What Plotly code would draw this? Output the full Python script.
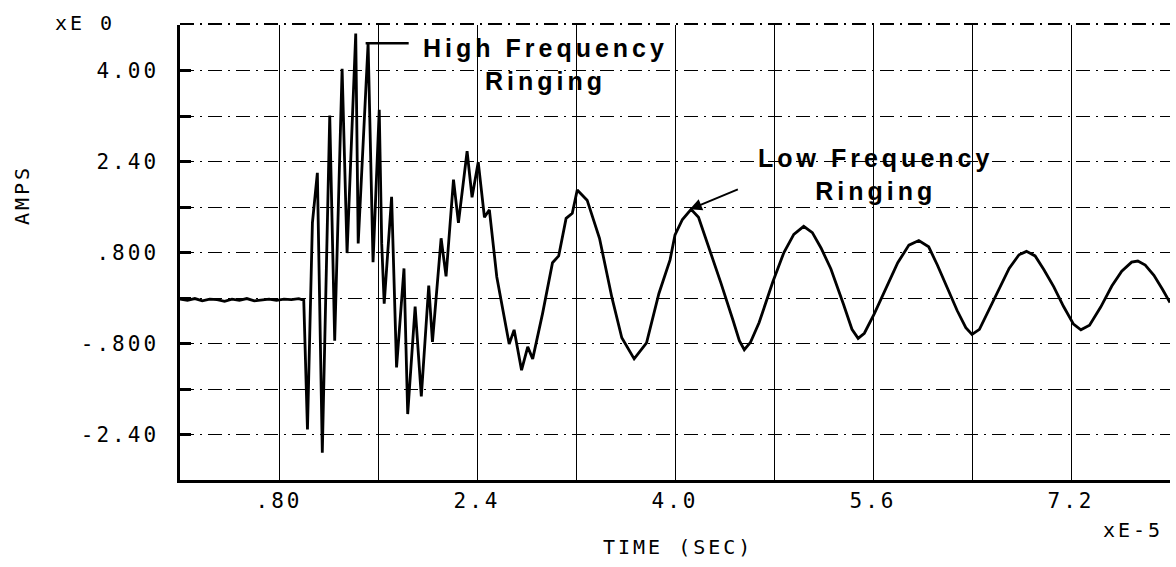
import plotly.graph_objects as go

# ---- data (time in units of 1e-5 s, current in amps) ----
time_flat = [0.00, 0.06, 0.12, 0.18, 0.24, 0.30, 0.36, 0.42, 0.48, 0.54, 0.60,
             0.66, 0.72, 0.78, 0.84, 0.90, 0.96, 1.00]
amps_flat = [-0.02, -0.04, -0.01, -0.05, -0.02, -0.03, -0.06, -0.02, -0.04, -0.01,
             -0.05, -0.03, -0.02, -0.04, -0.02, -0.03, -0.01, -0.04]

time_hf = [1.03, 1.07, 1.11, 1.15, 1.21, 1.25, 1.31, 1.35, 1.42, 1.44, 1.52, 1.56,
           1.61, 1.63, 1.65, 1.71, 1.75, 1.81, 1.84, 1.90, 1.95, 2.01, 2.04, 2.11,
           2.15, 2.21, 2.25, 2.32, 2.36, 2.41, 2.46, 2.50, 2.56, 2.66, 2.70, 2.76,
           2.81, 2.85, 2.93, 3.01, 3.06, 3.12, 3.17, 3.21, 3.29, 3.39, 3.49, 3.57,
           3.67, 3.77, 3.87, 3.96, 4.00, 4.06]
amps_hf = [-2.31, 1.32, 2.20, -2.72, 3.21, -0.75, 4.03, 0.79, 4.65, 0.96, 4.48, 0.63,
           3.31, 0.96, -0.10, 1.78, -1.22, 0.52, -2.04, -0.15, -1.73, 0.22, -0.77, 1.05,
           0.38, 2.08, 1.32, 2.58, 1.77, 2.39, 1.42, 1.55, 0.37, -0.81, -0.56, -1.27,
           -0.86, -1.07, -0.27, 0.62, 0.74, 1.40, 1.49, 1.90, 1.72, 1.05, 0.01, -0.70,
           -1.07, -0.79, 0.08, 0.67, 1.11, 1.38]

time_lf = [4.13, 4.19, 4.28, 4.37, 4.47, 4.52, 4.56, 4.61, 4.68, 4.79, 4.88, 4.96,
           5.04, 5.11, 5.18, 5.26, 5.36, 5.43, 5.48, 5.53, 5.61, 5.70, 5.80, 5.89,
           5.97, 6.05, 6.12, 6.20, 6.28, 6.35, 6.40, 6.46, 6.54, 6.62, 6.70, 6.78,
           6.84, 6.91, 6.98, 7.06, 7.14, 7.22, 7.28, 7.35, 7.44, 7.53, 7.61, 7.69,
           7.74, 7.80, 7.87, 7.94, 8.00]
amps_lf = [1.56, 1.42, 0.85, 0.27, -0.40, -0.75, -0.91, -0.78, -0.43, 0.28, 0.80, 1.12,
           1.26, 1.15, 0.88, 0.51, -0.10, -0.55, -0.71, -0.62, -0.28, 0.16, 0.62, 0.93,
           1.01, 0.90, 0.58, 0.18, -0.22, -0.52, -0.64, -0.55, -0.19, 0.19, 0.52, 0.76,
           0.82, 0.74, 0.50, 0.20, -0.15, -0.46, -0.56, -0.48, -0.16, 0.21, 0.47, 0.63,
           0.65, 0.58, 0.40, 0.15, -0.08]

time = time_flat + time_hf + time_lf
amps = amps_flat + amps_hf + amps_lf

x_grid = [0.0, 0.8, 1.6, 2.4, 3.2, 4.0, 4.8, 5.6, 6.4, 7.2, 8.0]
x_labels = ["", ".80", "", "2.4", "", "4.0", "", "5.6", "", "7.2", ""]
y_grid = [-3.2, -2.4, -1.6, -0.8, 0.0, 0.8, 1.6, 2.4, 3.2, 4.0, 4.8]
y_labels = ["", "-2.40", "", "-.800", "", ".800", "", "2.40", "", "4.00", ""]

PLOT_FONT = "DejaVu Sans Mono"
SP = "<span style='letter-spacing:3px'>{}</span>"
GRID_DASH = "14px,6px,2px,6px"


def spaced(s):
    return SP.format(s) if s else ""


fig = go.Figure()
fig.add_trace(go.Scatter(x=time, y=amps, mode="lines",
                         line=dict(color="black", width=2.8), hoverinfo="skip",
                         showlegend=False, cliponaxis=False))

fig.update_layout(
    width=1176, height=567,
    margin=dict(l=180, r=6, t=25, b=87),
    paper_bgcolor="white", plot_bgcolor="white",
    font=dict(family=PLOT_FONT, size=20, color="black"),
    xaxis=dict(range=[0, 8.0], tickmode="array", tickvals=x_grid,
               ticktext=[spaced(s) for s in x_labels],
               showgrid=True, gridcolor="black", gridwidth=1.1,
               showline=True, linecolor="black", linewidth=3,
               ticks="", ticklabelstandoff=0, zeroline=False,
               tickfont=dict(family=PLOT_FONT, size=21)),
    yaxis=dict(range=[-3.2, 4.8], tickmode="array", tickvals=y_grid,
               ticktext=[spaced(s) for s in y_labels],
               showgrid=True, gridcolor="black", gridwidth=1,
               griddash=GRID_DASH,
               showline=True, linecolor="black", linewidth=2.5,
               ticks="inside", ticklen=11, tickwidth=2.5, tickcolor="black",
               ticklabelstandoff=14, zeroline=False,
               tickfont=dict(family=PLOT_FONT, size=21)),
    shapes=[dict(type="line", xref="paper", yref="paper", x0=0, x1=1,
                 y0=1.002, y1=1.002, layer="above",
                 line=dict(color="black", width=2, dash=GRID_DASH))],
)

ann_font = dict(family="Liberation Sans", size=25, color="black")
LS = "<span style='letter-spacing:4px'><b>{}</b></span>"

annotations = [
    dict(text=spaced("xE 0"), x=85, y=567 - 23),
    dict(text=spaced("xE-5"), x=1133, y=567 - 530),
    dict(text=spaced("TIME (SEC)"), x=678, y=567 - 547),
    dict(text=spaced("AMPS"), x=22, y=567 - 195, textangle=-90),
]
fixed = []
for a in annotations:
    px, py = a["x"], a["y"]
    a["x"] = (px - 180) / (1176 - 186)
    a["y"] = (py - 87) / (567 - 112)
    a.update(xref="paper", yref="paper", showarrow=False, xanchor="center",
             yanchor="middle", font=dict(family=PLOT_FONT, size=20, color="black"))
    fixed.append(a)

fixed += [
    dict(text=LS.format("High Frequency") + "<br>" + LS.format("Ringing"),
         x=2.95, y=4.10, xref="x", yref="y", showarrow=False,
         font=ann_font, align="center", xanchor="center", yanchor="middle"),
    dict(text=LS.format("Low Frequency") + "<br>" + LS.format("Ringing"),
         x=5.62, y=2.18, xref="x", yref="y", showarrow=False,
         font=ann_font, align="center", xanchor="center", yanchor="middle"),
    dict(text="", x=4.12, y=1.56, ax=4.52, ay=1.92, xref="x", yref="y",
         axref="x", ayref="y", showarrow=True, arrowhead=2, arrowsize=1.2,
         arrowwidth=2, arrowcolor="black"),
    dict(text="", x=1.50, y=4.48, ax=1.86, ay=4.48, xref="x", yref="y",
         axref="x", ayref="y", showarrow=True, arrowhead=0,
         arrowwidth=2.5, arrowcolor="black"),
]
fig.update_layout(annotations=fixed)

fig.write_html("out.html")
